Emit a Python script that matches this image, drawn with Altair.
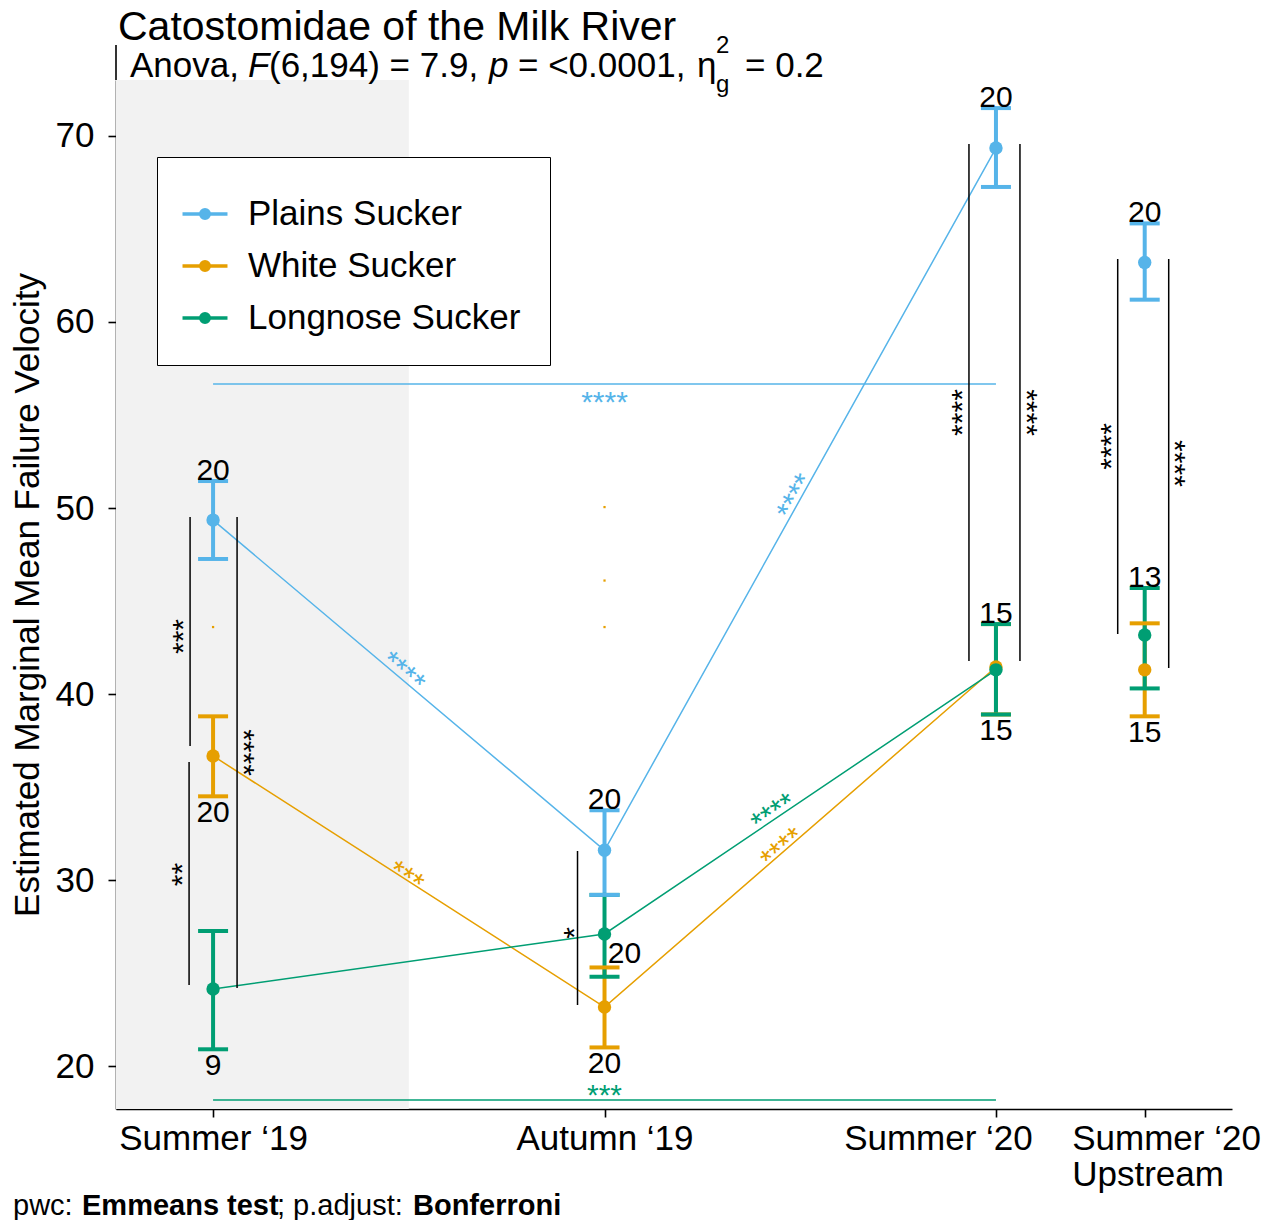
import math
import altair as alt
import pandas as pd

# ---------------- data ----------------
season_labels = ["Summer \u201819", "Autumn \u201819", "Summer \u201820", "Summer \u201820|Upstream"]
season_pos = [1.0, 2.0, 3.0, 3.38]
species = ["Plains Sucker", "White Sucker", "Longnose Sucker"]
species_colors = ["#56B4E9", "#E69F00", "#009E73"]

plains_mean = [49.35, 31.6, 69.35, 63.2]
plains_upper = [51.45, 33.75, 71.5, 65.3]
plains_lower = [47.26, 29.2, 67.26, 61.2]
plains_n = [20, 20, 20, 20]

white_mean = [36.67, 23.17, 41.45, 41.3]
white_upper = [38.8, 25.3, 43.76, 43.8]
white_lower = [34.5, 21.0, 38.9, 38.8]
white_n = [20, 20, 15, 15]

longnose_mean = [24.14, 27.1, 41.3, 43.17]
longnose_upper = [27.26, 29.2, 43.76, 45.7]
longnose_lower = [20.9, 24.8, 38.9, 40.3]
longnose_n = [9, 20, 15, 13]

n_place = {
    "Plains Sucker": ["above", "above", "above", "above"],
    "White Sucker": ["below", "below", "below", "below"],
    "Longnose Sucker": ["below", "right", "above", "above"],
}

# pairwise comparisons between seasons (along each species' line)
seg_species = ["Plains Sucker", "White Sucker", "Plains Sucker", "Longnose Sucker", "White Sucker"]
seg_from = [0, 0, 1, 1, 1]
seg_to = [1, 1, 2, 2, 2]
seg_label = ["****", "***", "****", "****", "****"]

# long brackets Summer '19 vs Summer '20
hb_species = ["Plains Sucker", "Longnose Sucker"]
hb_y = [56.67, 18.17]
hb_from = [0, 0]
hb_to = [2, 2]
hb_label = ["****", "***"]

# comparisons between species within a season
vb_season = [0, 0, 0, 1, 2, 2, 3, 3]
vb_y1 = [49.52, 36.34, 49.52, 31.56, 69.57, 69.57, 63.39, 63.39]
vb_y2 = [37.2, 24.35, 24.19, 23.28, 41.77, 41.77, 43.23, 41.4]
vb_label = ["***", "**", "****", "*", "****", "****", "****", "****"]

# stray label remnants
stray_season = [1, 1, 1, 0]
stray_y = [50.05, 46.1, 43.6, 43.6]

# ---------------- layout ----------------
FONT = "Liberation Sans"
W, H = 1116, 1029
X_DOMAIN = [0.752, 3.603]
Y_DOMAIN = [17.69, 73.01]
PX_X = W / (X_DOMAIN[1] - X_DOMAIN[0])
PX_Y = H / (Y_DOMAIN[1] - Y_DOMAIN[0])

seg_t = [0.475, 0.49, 0.50, 0.44, 0.46]
seg_perp_px = [5.5, 1.5, 4.5, 5.0, 2.5]
hb_text_px = [-19.4, 3.6]
vb_line_px = [-23, -24, 24, -27, -27, 24, -27, 24]
vb_text_px = [-5.6, -5.6, 5.6, -2.6, -5.6, 5.6, -5.6, 5.6]
vb_text_dy_px = [5, 1, 0, 5, 10, 10, 0, 0]
STAR_SIZE = 30
N_SIZE = 30

# ---------------- tables ----------------
means = [plains_mean, white_mean, longnose_mean]
uppers = [plains_upper, white_upper, longnose_upper]
lowers = [plains_lower, white_lower, longnose_lower]
ns = [plains_n, white_n, longnose_n]
rows = []
for sp, m, u, l, n in zip(species, means, uppers, lowers, ns):
    for i in range(len(season_pos)):
        rows.append(dict(species=sp, season=i, x=season_pos[i], mean=m[i], upper=u[i],
                         lower=l[i], n=str(n[i]), place=n_place[sp][i]))
df = pd.DataFrame(rows)
mean_of = {(r["species"], r["season"]): r["mean"] for r in rows}

seg_rows = []
for sp, a, b, lab, t, d in zip(seg_species, seg_from, seg_to, seg_label, seg_t, seg_perp_px):
    x1, x2 = season_pos[a], season_pos[b]
    y1, y2 = mean_of[(sp, a)], mean_of[(sp, b)]
    ang = math.degrees(math.atan2(-(y2 - y1) * PX_Y, (x2 - x1) * PX_X))
    th = math.radians(ang)
    xx = x1 + t * (x2 - x1) + d * math.sin(th) / PX_X
    yy = y1 + t * (y2 - y1) + d * math.cos(th) / PX_Y
    seg_rows.append(dict(species=sp, x=xx, y=yy, label=lab, angle=ang % 360))
seg_df = pd.DataFrame(seg_rows)

hb_df = pd.DataFrame(dict(
    species=hb_species,
    x1=[season_pos[i] for i in hb_from],
    x2=[season_pos[i] for i in hb_to],
    y=hb_y,
    label=hb_label,
    xm=[(season_pos[a] + season_pos[b]) / 2 for a, b in zip(hb_from, hb_to)],
    ty=[y + p / PX_Y for y, p in zip(hb_y, hb_text_px)],
))

vb_df = pd.DataFrame(dict(
    x=[season_pos[s] + o / PX_X for s, o in zip(vb_season, vb_line_px)],
    tx=[season_pos[s] + (o + t) / PX_X for s, o, t in zip(vb_season, vb_line_px, vb_text_px)],
    y1=vb_y1, y2=vb_y2,
    ym=[(a + b) / 2 - d / PX_Y for a, b, d in zip(vb_y1, vb_y2, vb_text_dy_px)],
    label=vb_label,
    angle=[270 if o < 0 else 90 for o in vb_line_px],
))

stray_df = pd.DataFrame(dict(x=[season_pos[s] for s in stray_season], y=stray_y))
bg_df = pd.DataFrame(dict(x1=[X_DOMAIN[0]], x2=[1.5], y1=[Y_DOMAIN[0]], y2=[Y_DOMAIN[1]]))
ext_df = pd.DataFrame(dict(x=[X_DOMAIN[0]], y1=[Y_DOMAIN[1]], y2=[Y_DOMAIN[1] + 35 / PX_Y]))

# ---------------- scales / axes ----------------
def js(s):
    return "'" + s.replace("'", "\\'") + "'"

expr = "''"
for p, lab in reversed(list(zip(season_pos, season_labels))):
    parts = lab.split("|")
    txt_ = js(parts[0]) if len(parts) == 1 else "[" + ",".join(js(q) for q in parts) + "]"
    expr = f"datum.value == {p} ? {txt_} : {expr}"

xscale = alt.Scale(domain=X_DOMAIN, nice=False, zero=False)
yscale = alt.Scale(domain=Y_DOMAIN, nice=False, zero=False)
cscale = alt.Scale(domain=species, range=species_colors)

xaxis = alt.Axis(values=season_pos, labelExpr=expr, title=None, grid=False,
                 domainColor="black", domainWidth=1.6, tickColor="black", tickWidth=1.6,
                 tickSize=8, labelFont=FONT, labelFontSize=35, labelColor="black",
                 labelPadding=4, labelLineHeight=36, labelOverlap=False, labelFlush=False,
                 labelLimit=400,
                 labelAlign={"condition": {"test": "datum.value > 3.2", "value": "left"}, "value": "center"},
                 labelOffset={"condition": [{"test": "datum.value > 3.2", "value": -73},
                                            {"test": "datum.value > 2.5", "value": -58}], "value": 0})
yaxis = alt.Axis(values=[20, 30, 40, 50, 60, 70], title="Estimated Marginal Mean Failure Velocity",
                 grid=False, domainColor="black", domainWidth=1.6, tickColor="black", tickWidth=1.6,
                 tickSize=8, labelFont=FONT, labelFontSize=35, labelColor="black", labelPadding=14,
                 titleFont=FONT, titleFontSize=35, titleFontWeight="normal", titleColor="black",
                 titlePadding=10, titleLimit=1000)

def X(f):
    return alt.X(f, type="quantitative", scale=xscale, axis=xaxis)

def Y(f):
    return alt.Y(f, type="quantitative", scale=yscale, axis=yaxis)

# line with a solid dot (two concentric stroked rings fill the dot)
LEGEND_SYMBOL = ("M-0.865,0L0.865,0"
                 "M-0.163,0A0.163,0.163,0,1,0,0.163,0A0.163,0.163,0,1,0,-0.163,0Z"
                 "M-0.07,0A0.07,0.07,0,1,0,0.07,0A0.07,0.07,0,1,0,-0.07,0Z")
legend = alt.Legend(
    title=None, orient="none", legendX=41, legendY=77, padding=29,
    symbolType=LEGEND_SYMBOL, symbolSize=2704, symbolStrokeWidth=3.5, symbolOpacity=1,
    symbolOffset=-9,
    labelFont=FONT, labelFontSize=35, labelColor="black", labelOffset=15, rowPadding=6,
    strokeColor="black", fillColor="white", labelLimit=600,
)

def C(leg=None):
    if leg is None:
        return alt.Color("species:N", scale=cscale, legend=None)
    return alt.Color("species:N", scale=cscale, legend=leg)

# ---------------- layers ----------------
bg = alt.Chart(bg_df).mark_rect(color="#F2F2F2").encode(x=X("x1"), x2="x2", y=Y("y1"), y2="y2")
ext = alt.Chart(ext_df).mark_rule(color="black", strokeWidth=1.6).encode(x=X("x"), y=Y("y1"), y2="y2")

hb_lines = alt.Chart(hb_df).mark_rule(strokeWidth=1.5).encode(x=X("x1"), x2="x2", y=Y("y"), color=C())
hb_text = alt.Chart(hb_df).mark_text(font=FONT, fontSize=STAR_SIZE, baseline="middle").encode(
    x=X("xm"), y=Y("ty"), text="label:N", color=C())

lines = alt.Chart(df).transform_filter("datum.season < 3").mark_line(strokeWidth=1.5).encode(
    x=X("x"), y=Y("mean"), color=C(legend), detail="species:N", order="season:Q")

stems = alt.Chart(df).mark_rule(strokeWidth=4).encode(x=X("x"), y=Y("lower"), y2="upper", color=C())
cap_up = alt.Chart(df).mark_rule(strokeWidth=4, xOffset=-15, x2Offset=15).encode(
    x=X("x"), x2="x", y=Y("upper"), color=C())
cap_lo = alt.Chart(df).mark_rule(strokeWidth=4, xOffset=-15, x2Offset=15).encode(
    x=X("x"), x2="x", y=Y("lower"), color=C())
points = alt.Chart(df).mark_circle(size=180, opacity=1).encode(x=X("x"), y=Y("mean"), color=C())

stray = alt.Chart(stray_df).mark_square(size=5, color="#E69F00", opacity=1).encode(x=X("x"), y=Y("y"))

n_above = alt.Chart(df).transform_filter("datum.place == 'above'").mark_text(
    font=FONT, fontSize=N_SIZE, baseline="middle", dy=-10, color="black").encode(
    x=X("x"), y=Y("upper"), text="n:N")
n_below = alt.Chart(df).transform_filter("datum.place == 'below'").mark_text(
    font=FONT, fontSize=N_SIZE, baseline="middle", dy=17, color="black").encode(
    x=X("x"), y=Y("lower"), text="n:N")
n_right = alt.Chart(df).transform_filter("datum.place == 'right'").mark_text(
    font=FONT, fontSize=N_SIZE, baseline="middle", dy=20, dx=20, color="black").encode(
    x=X("x"), y=Y("mean"), text="n:N")

seg_text = alt.Chart(seg_df).mark_text(font=FONT, fontSize=STAR_SIZE, baseline="middle").encode(
    x=X("x"), y=Y("y"), text="label:N", color=C(), angle=alt.Angle("angle:Q", scale=None))

vb_lines = alt.Chart(vb_df).mark_rule(color="black", strokeWidth=1.5).encode(x=X("x"), y=Y("y1"), y2="y2")
vb_text = alt.Chart(vb_df).mark_text(font=FONT, fontSize=STAR_SIZE, baseline="middle", color="black").encode(
    x=X("tx"), y=Y("ym"), text="label:N", angle=alt.Angle("angle:Q", scale=None))

def txt(s, px, py, size=35, weight="normal", style="normal"):
    return alt.Chart(pd.DataFrame({"t": [s]})).mark_text(
        font=FONT, fontSize=size, fontWeight=weight, fontStyle=style, align="left",
        baseline="alphabetic", color="black").encode(text="t:N", x=alt.value(px), y=alt.value(py))

SUB_Y = -3
CAP_Y = 1135
title_layers = [
    txt("Catostomidae of the Milk River", 2, -40, size=41),
    txt("Anova,", 14, SUB_Y),
    txt("F", 132, SUB_Y, style="italic"),
    txt("(6,194) = 7.9,", 153, SUB_Y),
    txt("p", 373, SUB_Y, style="italic"),
    txt("= <0.0001,", 402, SUB_Y),
    txt("\u03b7", 581, SUB_Y),
    txt("2", 600, -27, size=24),
    txt("g", 600, 12, size=24),
    txt("= 0.2", 629, SUB_Y),
    txt("pwc:", -103, CAP_Y, size=29),
    txt("Emmeans test", -34, CAP_Y, size=29, weight="bold"),
    txt("; p.adjust:", 161, CAP_Y, size=29),
    txt("Bonferroni", 297, CAP_Y, size=29, weight="bold"),
]

chart = alt.layer(
    bg, ext, hb_lines, hb_text, lines, stems, cap_up, cap_lo, points, stray,
    n_above, n_below, n_right, seg_text, vb_lines, vb_text, *title_layers
).resolve_legend(color="independent").properties(
    width=W, height=H,
    padding={"left": 108, "top": 72, "right": 30, "bottom": 111},
    autosize=alt.AutoSizeParams(type="none"),
    background="white",
).configure_view(strokeWidth=0)

chart.save("out.html", embed_options={"renderer": "svg", "actions": False})
